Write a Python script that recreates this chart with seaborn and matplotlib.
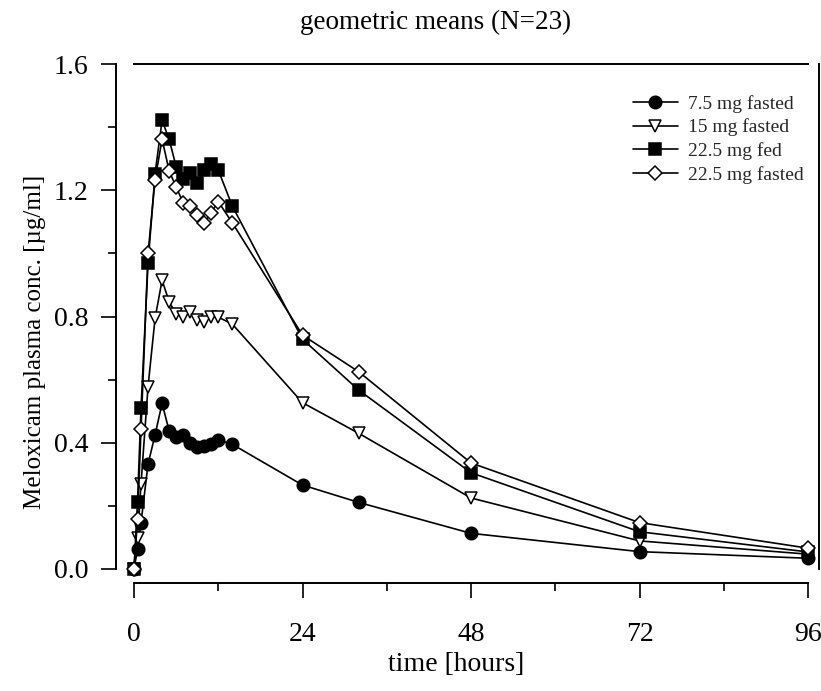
import matplotlib
matplotlib.use("Agg")
import matplotlib.pyplot as plt
import seaborn as sns
from matplotlib.ticker import MultipleLocator, FormatStrFormatter

# -------------------------------------------------------
# Data
# -------------------------------------------------------

hours = [0, 0.5, 1, 2, 3, 4, 5, 6, 7, 8, 9, 10, 11, 12, 14, 24, 32, 48, 72, 96]

conc_7_5_fasted = [0.0, 0.062, 0.147, 0.332, 0.425, 0.525, 0.438, 0.419, 0.425, 0.398,
                   0.388, 0.390, 0.395, 0.409, 0.395, 0.266, 0.211, 0.113, 0.055, 0.034]
conc_15_fasted = [0.0, 0.097, 0.270, 0.578, 0.794, 0.915, 0.847, 0.808, 0.800, 0.815,
                  0.789, 0.784, 0.798, 0.798, 0.776, 0.527, 0.430, 0.225, 0.089, 0.047]
conc_22_5_fed = [0.0, 0.213, 0.509, 0.969, 1.253, 1.421, 1.362, 1.275, 1.235, 1.254,
                 1.222, 1.264, 1.283, 1.264, 1.150, 0.728, 0.567, 0.305, 0.118, 0.054]
conc_22_5_fasted = [0.0, 0.157, 0.443, 1.0, 1.233, 1.362, 1.262, 1.210, 1.161, 1.150,
                    1.122, 1.097, 1.129, 1.164, 1.097, 0.741, 0.625, 0.336, 0.147, 0.066]

series_labels = ["7.5 mg fasted", "15 mg fasted", "22.5 mg fed", "22.5 mg fasted"]
series_values = [conc_7_5_fasted, conc_15_fasted, conc_22_5_fed, conc_22_5_fasted]

x_ticks = [0, 24, 48, 72, 96]
y_ticks = [0.0, 0.4, 0.8, 1.2, 1.6]

# marker, face colour, marker size
marker_styles = [
    ("o", "black", 9),
    ("v", "white", 9),
    ("s", "black", 8.5),
    ("D", "white", 7),
]

# -------------------------------------------------------
# Plot
# -------------------------------------------------------

sns.set_theme(style="ticks")
plt.rcParams["font.family"] = ["Liberation Serif", "DejaVu Serif"]

fig = plt.figure(figsize=(8.21, 6.91), dpi=100)
ax = fig.add_axes([134 / 821, 122 / 691, 674 / 821, 505 / 691])

for values, label, (marker, face, ms) in zip(series_values, series_labels, marker_styles):
    sns.lineplot(
        x=hours, y=values, ax=ax,
        color="black", linewidth=1.2,
        marker=marker, markersize=ms,
        markerfacecolor=face, markeredgecolor="black", markeredgewidth=1.1,
        label=label, clip_on=False,
    )

ax.set_xlim(0, 96)
ax.set_ylim(0, 1.6)
ax.set_xticks(x_ticks)
ax.set_yticks(y_ticks)
ax.xaxis.set_minor_locator(MultipleLocator(12))
ax.yaxis.set_minor_locator(MultipleLocator(0.2))
ax.yaxis.set_major_formatter(FormatStrFormatter("%.1f"))

# SigmaPlot-like detached axes
ax.spines["left"].set_position(("outward", 13))
ax.spines["bottom"].set_position(("outward", 10))
ax.spines["right"].set_position(("outward", 8))
for side in ["left", "bottom", "right", "top"]:
    ax.spines[side].set_visible(True)
    ax.spines[side].set_linewidth(1.4)
    ax.spines[side].set_color("black")
    ax.spines[side].set_zorder(5)
ax.spines["right"].set_bounds(0, 1.6)

ax.tick_params(which="both", direction="out", width=1.2, color="black",
               right=False, top=False, labelcolor="black")
ax.tick_params(which="major", length=11, labelsize=20)
ax.tick_params(which="minor", length=6)
ax.tick_params(axis="y", which="major", pad=9)
ax.tick_params(axis="x", which="major", pad=17)

ax.set_xlabel("time [hours]", fontsize=20, color="black")
ax.set_ylabel("Meloxicam plasma conc. [\u00b5g/ml]", fontsize=18, color="black")
ax.xaxis.set_label_coords(0.478, -0.19)
ax.xaxis.label.set_va("center")
ax.yaxis.set_label_coords(-0.147, 0.45)
ax.yaxis.label.set_va("center")

fig.text(436 / 821, 1 - 22 / 691, "geometric means (N=23)",
         ha="center", va="center", fontsize=19.5, color="black")

ax.legend(loc="upper right", bbox_to_anchor=(0.994, 0.939), frameon=False,
          fontsize=14, handlelength=2.3, handletextpad=0.55, labelspacing=0.3,
          borderpad=0, borderaxespad=0)

fig.savefig("out.png", dpi=100)
